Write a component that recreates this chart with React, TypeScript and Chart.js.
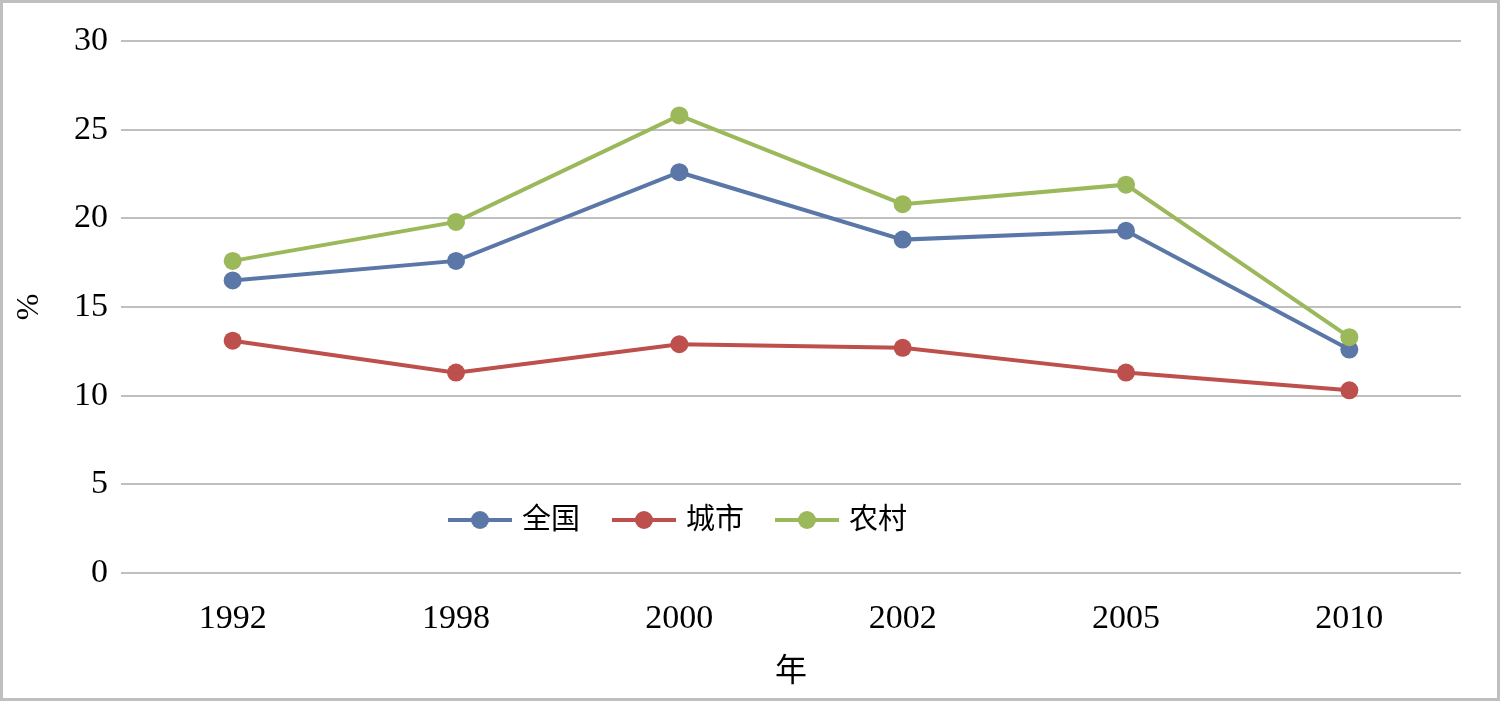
import React, { useEffect, useRef } from "react";
import { Chart, registerables } from "chart.js";

Chart.register(...registerables);

const years = ["1992", "1998", "2000", "2002", "2005", "2010"];
const national = [16.5, 17.6, 22.6, 18.8, 19.3, 12.6];
const urban = [13.1, 11.3, 12.9, 12.7, 11.3, 10.3];
const rural = [17.6, 19.8, 25.8, 20.8, 21.9, 13.3];
const seriesNames = ["全国", "城市", "农村"];
const seriesColors = ["#5a77a8", "#bd4f4c", "#9bb85a"];
const yTitle = "%";
const xTitle = "年";

const FONT = "'Liberation Serif', 'Noto Sans CJK SC', serif";

const framePlugin = {
  id: "frame",
  afterDraw(chart: any) {
    const { ctx, width, height } = chart;
    ctx.save();
    ctx.strokeStyle = "#bfbfbf";
    ctx.lineWidth = 3;
    ctx.strokeRect(1.5, 1.5, width - 3, height - 3);
    ctx.restore();
  },
};

const innerLegend = {
  id: "innerLegend",
  afterDatasetsDraw(chart: any) {
    const { ctx } = chart;
    const y = 520;
    const items = [
      { x: 448, name: seriesNames[0], color: seriesColors[0] },
      { x: 612, name: seriesNames[1], color: seriesColors[1] },
      { x: 775, name: seriesNames[2], color: seriesColors[2] },
    ];
    ctx.save();
    ctx.font = `29px ${FONT}`;
    ctx.textBaseline = "middle";
    for (const it of items) {
      ctx.strokeStyle = it.color;
      ctx.lineWidth = 4;
      ctx.beginPath();
      ctx.moveTo(it.x, y);
      ctx.lineTo(it.x + 64, y);
      ctx.stroke();
      ctx.fillStyle = it.color;
      ctx.beginPath();
      ctx.arc(it.x + 32, y, 9, 0, Math.PI * 2);
      ctx.fill();
      ctx.fillStyle = "#000";
      ctx.fillText(it.name, it.x + 74, y + 1);
    }
    ctx.restore();
  },
};

export default function App() {
  const ref = useRef<HTMLCanvasElement>(null);
  useEffect(() => {
    document.body.style.margin = "0";
    const mk = (label: string, data: number[], color: string, order: number) => ({
      label,
      data,
      borderColor: color,
      backgroundColor: color,
      pointBackgroundColor: color,
      pointBorderColor: color,
      borderWidth: 4,
      pointRadius: 9,
      pointBorderWidth: 0,
      tension: 0,
      order,
    });
    const chart = new Chart(ref.current!, {
      type: "line",
      data: {
        labels: years,
        datasets: [
          mk(seriesNames[0], national, seriesColors[0], 2),
          mk(seriesNames[1], urban, seriesColors[1], 1),
          mk(seriesNames[2], rural, seriesColors[2], 0),
        ],
      },
      options: {
        animation: false,
        responsive: false,
        layout: { padding: { top: 41, right: 39, left: 0, bottom: 0 } },
        plugins: { legend: { display: false }, tooltip: { enabled: false } },
        scales: {
          x: {
            offset: true,
            grid: { display: false },
            border: { display: false },
            ticks: { color: "#000", font: { family: FONT, size: 34 }, padding: 18 },
            title: { display: true, text: xTitle, color: "#000", font: { family: FONT, size: 32 }, padding: { top: 0, bottom: 9 } },
            afterFit: (s: any) => { s.height = 128; },
          },
          y: {
            min: 0,
            max: 30,
            ticks: { stepSize: 5, color: "#000", font: { family: FONT, size: 34 }, padding: 13 },
            grid: { color: "#bfbfbf", lineWidth: 2, drawTicks: false },
            border: { display: false },
            title: { display: true, text: yTitle, color: "#000", font: { family: FONT, size: 32 }, padding: { top: 10, bottom: 0 } },
            afterFit: (s: any) => { s.width = 121; },
          },
        },
      },
      plugins: [innerLegend, framePlugin],
    });
    return () => chart.destroy();
  }, []);
  return (
    <div style={{ position: "absolute", left: 0, top: 0, width: 1500, height: 701, background: "#fff" }}>
      <canvas ref={ref} width={1500} height={701} style={{ display: "block" }} />
    </div>
  );
}
